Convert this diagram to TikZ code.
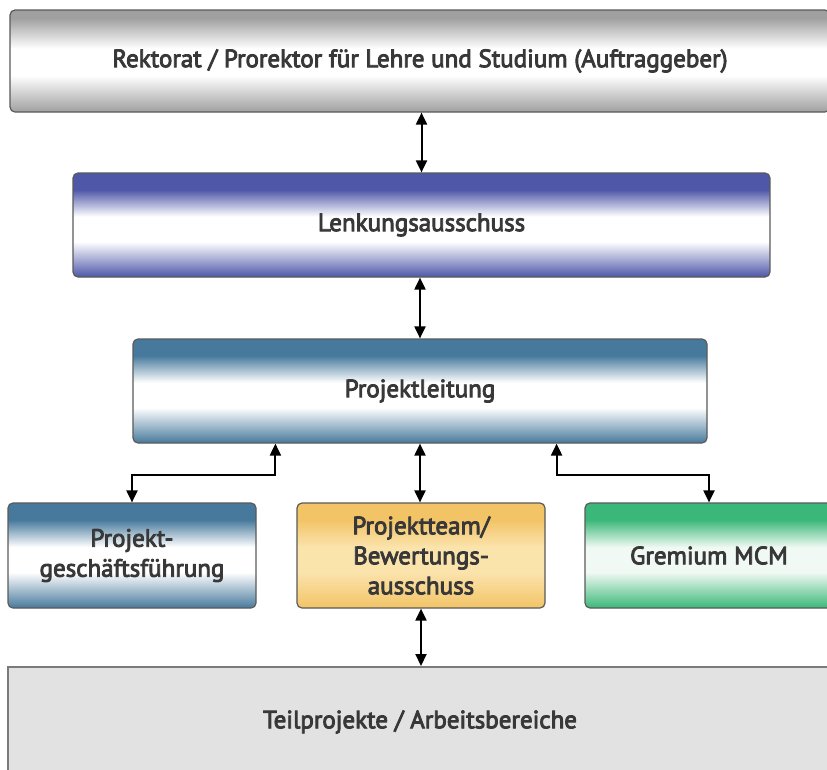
\documentclass[tikz,border=0pt]{standalone}
\usepackage{fontspec}
\setmainfont{PT Sans}
\newfontfamily\boxfont{PT Sans}[FakeBold=3.5]
\usetikzlibrary{arrows.meta}
\definecolor{cgray}{HTML}{A0A0A0}
\definecolor{cblue}{HTML}{4E57A8}
\definecolor{csteel}{HTML}{47799C}
\definecolor{cyel}{HTML}{F2C466}
\definecolor{cyelm}{HTML}{FBE3AC}
\definecolor{cgreen}{HTML}{3BB879}
\definecolor{cgreenm}{HTML}{F0F9F3}
\definecolor{cbot}{HTML}{E2E2E2}
\definecolor{ctext}{HTML}{383838}
\definecolor{cbord}{HTML}{5A5A5A}
\definecolor{cbotbord}{HTML}{7A7A7A}
% the picture uses y=-1pt, so 25bp is the top edge and 75bp the bottom edge
\pgfdeclareverticalshading{shgray}{100bp}{color(0bp)=(cgray); color(25bp)=(cgray); color(43bp)=(white); color(56bp)=(white); color(71bp)=(cgray); color(75bp)=(cgray); color(100bp)=(cgray)}
\pgfdeclareverticalshading{shblue}{100bp}{color(0bp)=(cblue); color(25bp)=(cblue); color(42bp)=(white); color(54bp)=(white); color(67bp)=(cblue); color(75bp)=(cblue); color(100bp)=(cblue)}
\pgfdeclareverticalshading{shsteel}{100bp}{color(0bp)=(csteel); color(25bp)=(csteel); color(42bp)=(white); color(54bp)=(white); color(67bp)=(csteel); color(75bp)=(csteel); color(100bp)=(csteel)}
\pgfdeclareverticalshading{shyel}{100bp}{color(0bp)=(cyel); color(25bp)=(cyel); color(42bp)=(cyelm); color(54bp)=(cyelm); color(67bp)=(cyel); color(75bp)=(cyel); color(100bp)=(cyel)}
\pgfdeclareverticalshading{shgreen}{100bp}{color(0bp)=(cgreen); color(25bp)=(cgreen); color(42bp)=(cgreenm); color(54bp)=(cgreenm); color(67bp)=(cgreen); color(75bp)=(cgreen); color(100bp)=(cgreen)}
\tikzset{
  box/.style={draw=cbord, line width=1.2pt, rounded corners=5pt, inner sep=0pt,
    text=ctext, font=\boxfont\fontsize{25}{30}\selectfont, align=center},
  flatbox/.style={draw=cbotbord, line width=2pt, fill=cbot, inner sep=0pt},
  arr/.style={{Triangle[length=12pt,width=11pt]}-{Triangle[length=12pt,width=11pt]}, line width=2pt, black},
}
\begin{document}
\begin{tikzpicture}[x=1pt,y=-1pt]
\useasboundingbox (0,0) rectangle (827,769);
\fill[white] (0,0) rectangle (827,769);
\clip (0,0) rectangle (827,769);
\node[box, shading=shgray, minimum width=820pt, minimum height=102pt] (top) at (420,61) {Rektorat / Prorektor für Lehre und Studium (Auftraggeber)};
\node[box, shading=shblue, minimum width=697pt, minimum height=104pt] (lenk) at (421.5,225) {Lenkungsausschuss};
\node[box, shading=shsteel, minimum width=574pt, minimum height=104pt] (pl) at (420,391) {Projektleitung};
\node[box, shading=shsteel, minimum width=248pt, minimum height=105pt] (pgf) at (132,555.5) {Projekt-\\geschäftsführung};
\node[box, shading=shyel, minimum width=248pt, minimum height=105pt] (team) at (421,555.5) {Projektteam/\\Bewertungs-\\ausschuss};
\node[box, shading=shgreen, minimum width=248pt, minimum height=105pt] (mcm) at (709,555.5) {Gremium MCM};
\node[flatbox, minimum width=832pt, minimum height=110pt] (bot) at (424,722) {};
\node[text=ctext, font=\boxfont\fontsize{25}{30}\selectfont] (botlabel) at (420,722) {Teilprojekte / Arbeitsbereiche};
\draw[arr] (lenk.north |- top.south) -- (lenk.north);
\draw[arr] (pl.north |- lenk.south) -- (pl.north);
\draw[arr] ([xshift=143pt]pl.south west) -- ++(0,31) -| (pgf.north);
\draw[arr] (pl.south) -- (pl.south |- team.north);
\draw[arr] ([xshift=-151pt]pl.south east) -- ++(0,31) -| (mcm.north);
\draw[arr] (team.south) -- (team.south |- bot.north);
\end{tikzpicture}
\end{document}
